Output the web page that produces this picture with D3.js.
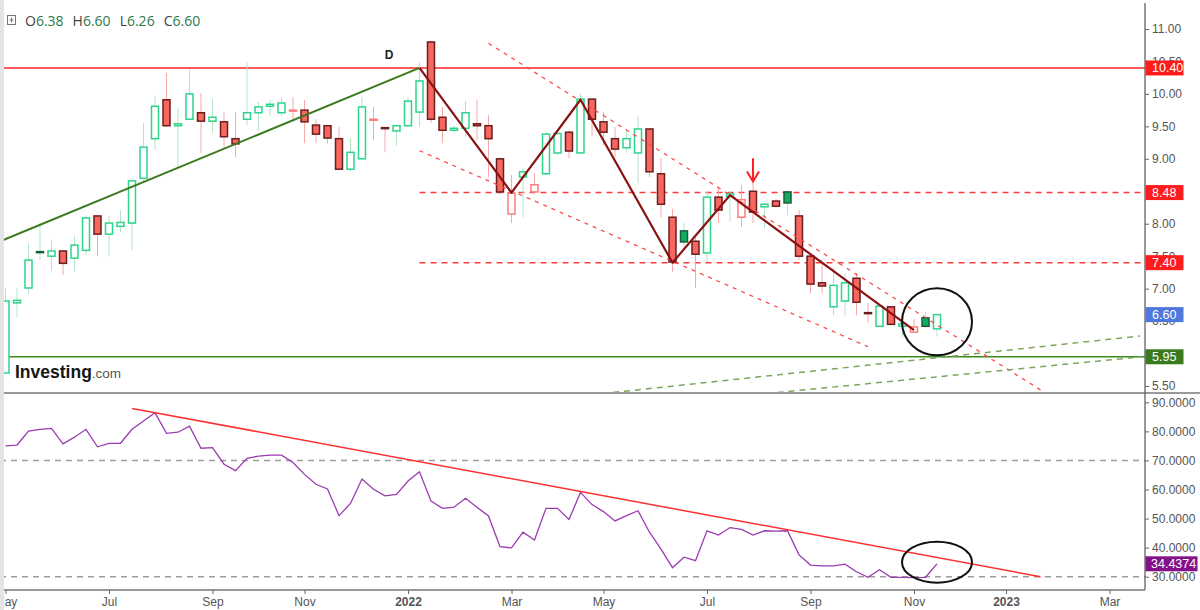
<!DOCTYPE html>
<html>
<head>
<meta charset="utf-8">
<title>Weekly chart</title>
<script src="https://cdn.jsdelivr.net/npm/d3@7/dist/d3.min.js"></script>
<style>
  body { margin: 0; background: #fff; }
  svg { display: block; font-family: "Liberation Sans", Arial, sans-serif; }
  .tick text { fill: #555; font-size: 12px; }
  .tick line { stroke: #666; }
</style>
</head>
<body>
<svg id="chart" width="1200" height="610"></svg>
<script>
// weekly candles, the first one is the week of 3 May 2021
var firstMonday = new Date(2021, 4, 3);

var opens = [5.70, 6.78, 7.01, 7.57, 7.50, 7.58, 7.47, 7.59, 8.12, 7.84,
             7.96, 8.01, 8.70, 9.31, 9.91, 9.51, 9.61, 9.71, 9.58, 9.57,
             9.31, 9.61, 9.71, 9.81, 9.71, 9.75, 9.75, 9.52, 9.51, 9.31,
             8.84, 9.00, 9.61, 9.48, 9.43, 9.51, 9.72, 10.80, 9.64, 9.44,
             9.47, 9.54, 9.51, 9.00, 8.15, 8.72, 8.49, 8.77, 9.09, 9.41,
             9.09, 9.92, 9.57, 9.31, 9.17, 9.09, 9.46, 8.77, 8.10, 7.89,
             7.73, 7.55, 8.41, 8.42, 8.10, 8.50, 8.26, 8.35, 8.49, 8.12,
             7.50, 7.09, 6.72, 6.81, 7.16, 6.63, 6.42, 6.72, 6.42, 6.33,
             6.55, 6.38];
var highs = [7.02, 7.01, 7.69, 8.01, 7.75, 7.60, 7.81, 8.13, 8.13, 8.12,
             8.21, 8.70, 9.55, 9.97, 10.32, 9.78, 10.38, 10.01, 9.92, 9.72,
             9.72, 10.49, 9.88, 9.91, 9.95, 9.95, 9.91, 9.61, 9.52, 9.49,
             9.32, 9.95, 9.80, 9.48, 9.51, 9.95, 10.49, 10.81, 9.80, 9.52,
             9.89, 9.91, 9.67, 9.02, 8.75, 8.86, 8.78, 9.41, 9.40, 9.44,
             10.01, 9.94, 9.72, 9.49, 9.44, 9.67, 9.46, 9.01, 8.23, 8.01,
             7.80, 8.49, 8.57, 8.50, 8.60, 8.63, 8.32, 8.38, 8.50, 8.21,
             7.51, 7.44, 7.33, 7.24, 7.24, 6.78, 6.74, 6.73, 6.48, 6.53,
             6.64, 6.60];
var lows  = [5.70, 6.56, 6.93, 7.44, 7.27, 7.21, 7.27, 7.52, 7.50, 7.50,
             7.87, 7.59, 8.63, 9.14, 9.49, 8.86, 9.60, 9.09, 9.41, 9.17,
             9.03, 9.52, 9.43, 9.66, 9.66, 9.60, 9.24, 9.24, 9.24, 8.84,
             8.80, 9.00, 9.29, 9.10, 9.20, 9.49, 9.49, 9.55, 9.24, 9.42,
             9.34, 9.29, 8.72, 8.45, 8.01, 8.10, 8.47, 8.75, 9.05, 9.01,
             9.08, 9.34, 9.21, 9.03, 9.09, 8.63, 8.72, 8.10, 7.26, 7.63,
             7.01, 7.41, 8.01, 8.03, 7.95, 8.01, 7.93, 8.25, 8.13, 7.44,
             6.93, 6.93, 6.59, 6.59, 6.59, 6.47, 6.41, 6.44, 6.25, 6.33,
             6.40, 6.26];
var closes = [6.81, 6.82, 7.44, 7.56, 7.58, 7.39, 7.67, 8.09, 7.84, 8.01,
              8.02, 8.66, 9.18, 9.81, 9.51, 9.54, 10.00, 9.58, 9.64, 9.34,
              9.23, 9.71, 9.80, 9.84, 9.86, 9.75, 9.57, 9.38, 9.32, 8.84,
              9.10, 9.80, 9.61, 9.47, 9.51, 9.89, 10.20, 9.61, 9.44, 9.47,
              9.71, 9.51, 9.31, 8.49, 8.47, 8.80, 8.60, 9.38, 9.39, 9.12,
              9.92, 9.61, 9.41, 9.15, 9.31, 9.46, 8.80, 8.30, 7.41, 7.72,
              7.53, 8.41, 8.21, 8.46, 8.37, 8.18, 8.30, 8.27, 8.32, 7.50,
              7.07, 7.04, 7.05, 7.09, 6.79, 6.62, 6.73, 6.45, 6.46, 6.41,
              6.42, 6.60];

// RSI(14), one value per weekly candle
var rsiValues = [75.0, 75.3, 80.1, 80.7, 81.0, 75.7, 78.0, 80.7, 74.7, 75.9,
                 75.9, 80.7, 83.6, 86.4, 79.3, 79.7, 81.8, 74.2, 74.4, 68.7,
                 66.5, 70.7, 71.5, 71.8, 71.8, 69.3, 65.2, 61.8, 60.2, 51.0,
                 55.2, 63.6, 60.1, 57.8, 58.3, 62.9, 66.1, 56.0, 53.5, 53.9,
                 57.0, 53.9, 50.9, 40.3, 39.9, 45.3, 42.6, 53.5, 53.5, 49.7,
                 59.0, 54.8, 52.4, 49.2, 51.0, 52.7, 45.3, 39.5, 33.1, 36.7,
                 35.5, 45.8, 44.3, 46.9, 46.3, 44.3, 45.8, 45.7, 45.8, 37.5,
                 34.0, 33.7, 33.7, 34.3, 31.7, 29.8, 32.4, 29.8, 29.8, 29.7,
                 29.8, 34.4374];

var priceTicks = [5.5, 6, 6.5, 7, 7.5, 8, 8.5, 9, 9.5, 10, 10.5, 11];
var rsiTicks = [30, 40, 50, 60, 70, 80, 90];
var tickDates = ["2021-05-03", "2021-07-05", "2021-09-06", "2021-11-01", "2022-01-03", "2022-03-07",
                 "2022-05-02", "2022-07-04", "2022-09-05", "2022-11-07", "2023-01-02", "2023-03-06"];
var tickLabels = ["May", "Jul", "Sep", "Nov", "2022", "Mar", "May", "Jul", "Sep", "Nov", "2023", "Mar"];

// marked levels on the price axis
var priceMarks = [10.40, 8.48, 7.40, 6.60, 5.95];
var priceMarkColors = ["#ff1c1c", "#ff1c1c", "#ff1c1c", "#4e78dc", "#3b7a1d"];
var rsiMark = 34.4374;

// drawings, as [week index, value]
var trendUp = [[-0.2, 7.75], [36, 10.40]];
var zigzag = [[36, 10.40], [44, 8.48], [50, 9.91], [58, 7.40], [63, 8.44], [79, 6.36]];
var channelTop = [[42, 10.78], [90, 5.44]];
var channelBottom = [[36, 9.125], [75, 6.105]];
var supportA = [[52.83, 5.40], [98.65, 6.27]];
var supportB = [[67.13, 5.40], [98.81, 5.95]];
var dashedLevels = [8.48, 7.40];
var dashedFrom = 36;
var arrowAt = [65, 9.01, 8.65];
var labelD = [33.35, 10.54];
var circlePrice = [81, 6.49];
var rsiTrend = [[11, 87.9], [90, 30]];
var circleRsi = [81, 35];
var rsiBands = [70, 30];

var svg = d3.select("#chart");
var axisX = 1145;

function wk(w) { return new Date(firstMonday.getTime() + w * 6048e5); }
var parseDay = d3.timeParse("%Y-%m-%d");

var x = d3.scaleTime().domain([wk(0), wk(96)]).range([5.5, 1109.5]);
var y = d3.scaleLinear().domain([5.5, 11]).range([386, 29]);
var yr = d3.scaleLinear().domain([30, 90]).range([576.7, 402.3]);

var defs = svg.append("defs");
defs.append("clipPath").attr("id", "clipP").append("rect")
  .attr("x", 3).attr("y", 0).attr("width", axisX - 3).attr("height", 392);
defs.append("clipPath").attr("id", "clipR").append("rect")
  .attr("x", 3).attr("y", 394).attr("width", axisX - 3).attr("height", 196);

svg.append("line").attr("x1", 0).attr("x2", 1200).attr("y1", 393).attr("y2", 393)
  .attr("stroke", "#9a9a9a").attr("stroke-width", 2);

var pg = svg.append("g").attr("clip-path", "url(#clipP)");
var rg = svg.append("g").attr("clip-path", "url(#clipR)");

function seg(g, pts, scale) {
  return g.append("line")
    .attr("x1", x(wk(pts[0][0]))).attr("y1", scale(pts[0][1]))
    .attr("x2", x(wk(pts[1][0]))).attr("y2", scale(pts[1][1]));
}

// logo
var logo = pg.append("text").attr("x", 15).attr("y", 378);
logo.append("tspan").text("Investing").style("font-size", "17.5px").style("font-weight", "bold").attr("fill", "#161616");
logo.append("tspan").text(".com").style("font-size", "13.5px").attr("fill", "#555");

// horizontal levels
pg.append("line").attr("x1", 0).attr("x2", axisX).attr("y1", y(10.40)).attr("y2", y(10.40))
  .attr("stroke", "#ff2424").attr("stroke-width", 1.5);
pg.append("line").attr("x1", 0).attr("x2", axisX).attr("y1", y(5.95)).attr("y2", y(5.95))
  .attr("stroke", "#3f8a1f").attr("stroke-width", 1.5);
dashedLevels.forEach(function (v) {
  pg.append("line").attr("x1", x(wk(dashedFrom))).attr("x2", axisX).attr("y1", y(v)).attr("y2", y(v))
    .attr("stroke", "#ff3a3a").attr("stroke-width", 1.5).attr("stroke-dasharray", "6,5");
});

// candles
var candles = opens.map(function (o, i) {
  var c = closes[i];
  var prev = i > 0 ? closes[i - 1] : o;
  return { date: wk(i), o: o, h: highs[i], l: lows[i], c: c, hollow: c >= o, up: c >= prev };
});

var cg = pg.selectAll("g.candle").data(candles).enter().append("g").attr("class", "candle");
cg.append("line")
  .attr("x1", function (d) { return x(d.date); }).attr("x2", function (d) { return x(d.date); })
  .attr("y1", function (d) { return y(d.h); }).attr("y2", function (d) { return y(d.l); })
  .attr("stroke", function (d) { return d.up ? "#b5e4cb" : "#f6a9a9"; }).attr("stroke-width", 1);
cg.append("rect")
  .attr("x", function (d) { return x(d.date) - 3.5; }).attr("width", 7)
  .attr("y", function (d) { return y(Math.max(d.o, d.c)); })
  .attr("height", function (d) { return Math.max(1, Math.abs(y(d.o) - y(d.c))); })
  .attr("fill", function (d) { return d.hollow ? "#fff" : (d.up ? "#0cae62" : "#f8675f"); })
  .attr("stroke", function (d) {
    if (d.hollow) return d.up ? "#2cd58b" : "#ff7b7b";
    return d.up ? "#1c5b39" : "#6a1f1f";
  })
  .attr("stroke-width", 1.5);

// drawings on the price panel
seg(pg, trendUp, y).attr("stroke", "#3b7a1f").attr("stroke-width", 2);
seg(pg, channelTop, y).attr("stroke", "#ff4040").attr("stroke-width", 1.2).attr("stroke-dasharray", "4,5");
seg(pg, channelBottom, y).attr("stroke", "#ff4040").attr("stroke-width", 1.2).attr("stroke-dasharray", "4,5");
seg(pg, supportA, y).attr("stroke", "#7ba65c").attr("stroke-width", 1.5).attr("stroke-dasharray", "6,5");
seg(pg, supportB, y).attr("stroke", "#7ba65c").attr("stroke-width", 1.5).attr("stroke-dasharray", "6,5");

pg.append("path")
  .attr("d", d3.line().x(function (d) { return x(wk(d[0])); }).y(function (d) { return y(d[1]); })(zigzag))
  .attr("fill", "none").attr("stroke", "#8a1212").attr("stroke-width", 2.2).attr("stroke-linejoin", "round");

pg.append("text").attr("x", x(wk(labelD[0]))).attr("y", y(labelD[1]))
  .attr("text-anchor", "middle").style("font-size", "12px").style("font-weight", "bold").attr("fill", "#222")
  .text("D");

var ax = x(wk(arrowAt[0])), ay1 = y(arrowAt[1]), ay2 = y(arrowAt[2]);
pg.append("path")
  .attr("d", "M" + ax + "," + ay1 + "V" + ay2 + "M" + (ax - 6) + "," + (ay2 - 10) + "L" + ax + "," + ay2 + "L" + (ax + 6) + "," + (ay2 - 10))
  .attr("fill", "none").attr("stroke", "#ff2020").attr("stroke-width", 2);

pg.append("ellipse").attr("cx", x(wk(circlePrice[0]))).attr("cy", y(circlePrice[1]))
  .attr("rx", 35).attr("ry", 33.5).attr("fill", "none").attr("stroke", "#111").attr("stroke-width", 2);

// RSI panel
rsiBands.forEach(function (v) {
  rg.append("line").attr("x1", 0).attr("x2", axisX).attr("y1", yr(v)).attr("y2", yr(v))
    .attr("stroke", "#9c9c9c").attr("stroke-width", 1.5).attr("stroke-dasharray", "6,5");
});
rg.append("path")
  .attr("d", d3.line().x(function (d, i) { return x(wk(i)); }).y(function (d) { return yr(d); })(rsiValues))
  .attr("fill", "none").attr("stroke", "#9a3bb0").attr("stroke-width", 1.3);
seg(rg, rsiTrend, yr).attr("stroke", "#ff3030").attr("stroke-width", 1.5);
rg.append("ellipse").attr("cx", x(wk(circleRsi[0]))).attr("cy", yr(circleRsi[1]))
  .attr("rx", 35).attr("ry", 20.5).attr("fill", "none").attr("stroke", "#111").attr("stroke-width", 2);

// axes
svg.append("line").attr("x1", axisX).attr("x2", axisX).attr("y1", 3).attr("y2", 590)
  .attr("stroke", "#555").attr("stroke-width", 1.2);
svg.append("line").attr("x1", 0).attr("x2", axisX).attr("y1", 590).attr("y2", 590)
  .attr("stroke", "#777").attr("stroke-width", 1.5);

var pAxis = svg.append("g").attr("transform", "translate(" + axisX + ",0)")
  .call(d3.axisRight(y).tickValues(priceTicks).tickFormat(d3.format(".2f")).tickSize(4).tickPadding(3));
pAxis.select(".domain").remove();
// labels that sit entirely under a value box are not visible in the original
pAxis.selectAll(".tick text").filter(function (d) {
  return priceMarks.some(function (m) { return Math.abs(y(m) - y(d)) < 4; });
}).remove();

var rAxis = svg.append("g").attr("transform", "translate(" + axisX + ",0)")
  .call(d3.axisRight(yr).tickValues(rsiTicks).tickFormat(d3.format(".4f")).tickSize(4).tickPadding(3));
rAxis.select(".domain").remove();

var xAxis = svg.append("g").attr("transform", "translate(0,590)")
  .call(d3.axisBottom(x).tickValues(tickDates.map(parseDay))
    .tickFormat(function (d, i) { return tickLabels[i]; }).tickSize(4).tickPadding(3));
xAxis.select(".domain").remove();
xAxis.selectAll(".tick text")
  .style("font-weight", function (d, i) { return /^\d{4}$/.test(tickLabels[i]) ? "bold" : null; })
  .attr("fill", function (d, i) { return /^\d{4}$/.test(tickLabels[i]) ? "#333" : "#555"; });

// value boxes on the right axis
priceMarks.forEach(function (v, i) {
  var g = svg.append("g").attr("transform", "translate(" + axisX + "," + y(v) + ")");
  g.append("rect").attr("x", 0.5).attr("y", -7.5).attr("width", 38).attr("height", 15).attr("fill", priceMarkColors[i]);
  g.append("text").attr("x", 7).attr("y", 4.5).attr("fill", "#fff").style("font-size", "12.5px").text(v.toFixed(2));
});
var rm = svg.append("g").attr("transform", "translate(" + axisX + "," + yr(rsiMark) + ")");
rm.append("rect").attr("x", 0.5).attr("y", -7.5).attr("width", 52).attr("height", 15).attr("fill", "#84108a");
rm.append("text").attr("x", 6).attr("y", 4.5).attr("fill", "#fff").style("font-size", "12.5px").text(rsiMark.toFixed(4));

// left frame strip sits over the cut-off first label
svg.append("rect").attr("x", 0).attr("y", 0).attr("width", 4).attr("height", 610).attr("fill", "#e4e4e4");

// OHLC header
var last = candles[candles.length - 1];
var hdr = svg.append("g").style("font-family", "'Open Sans', 'DejaVu Sans', sans-serif").style("font-size", "14px");
hdr.append("rect").attr("x", 7.5).attr("y", 15.5).attr("width", 8).attr("height", 9).attr("fill", "none").attr("stroke", "#777");
hdr.append("path").attr("d", "M11.5,17.5V22.5M9.5,20H13.5").attr("stroke", "#777");
var ht = hdr.append("text").attr("x", 25).attr("y", 26);
[["O", last.o], ["H", last.h], ["L", last.l], ["C", last.c]].forEach(function (p, i) {
  ht.append("tspan").attr("dx", i ? 9 : 0).attr("fill", "#444").text(p[0]);
  ht.append("tspan").attr("fill", "#2d7a4c").text(p[1].toFixed(2));
});
</script>
</body>
</html>
